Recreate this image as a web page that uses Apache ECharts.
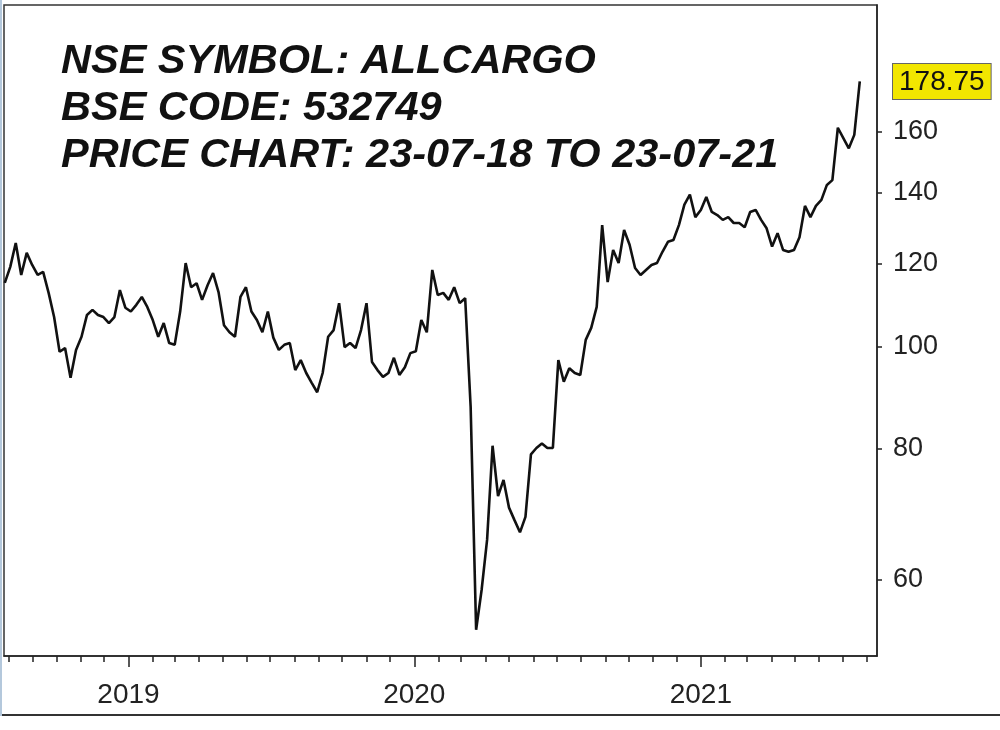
<!DOCTYPE html>
<html><head><meta charset="utf-8">
<script src="https://cdn.jsdelivr.net/npm/echarts@6/dist/echarts.min.js"></script>
<style>html,body{margin:0;padding:0;background:#fff}#c{width:1000px;height:730px}</style>
</head><body><div id="c"></div>
<script>
const titleLines = ['NSE SYMBOL: ALLCARGO', 'BSE CODE: 532749', 'PRICE CHART: 23-07-18 TO 23-07-21'];
// weekly closes, first one on the week ending 2018-07-27, one per week
const firstWeekEnd = '2018-07-27';
const weeklyClose = [
  115.0, 119.1, 125.5, 117.0, 122.8, 119.6, 117.0, 117.8, 112.5, 106.7,
  98.9, 99.7, 93.4, 99.3, 102.2, 107.2, 108.4, 107.2, 106.7, 105.3,
  106.7, 113.2, 108.9, 108.0, 109.6, 111.5, 109.1, 106.0, 102.2, 105.3,
  100.8, 100.4, 108.0, 120.1, 113.9, 114.9, 110.8, 114.4, 117.5, 112.7,
  104.8, 103.2, 102.2, 111.5, 113.9, 108.0, 106.0, 103.2, 108.0, 102.0,
  99.3, 100.4, 100.8, 95.0, 97.1, 94.4, 92.4, 90.5, 94.4, 102.2,
  103.7, 110.0, 99.9, 100.8, 99.7, 103.7, 110.0, 96.7, 95.0, 93.6,
  94.4, 97.6, 94.0, 95.6, 98.6, 99.0, 106.0, 103.2, 118.3, 112.0,
  112.5, 110.8, 113.9, 110.0, 111.2, 87.7, 53.8, 58.7, 65.5, 80.5,
  72.1, 74.7, 70.3, 68.4, 66.6, 68.9, 79.0, 80.1, 80.9, 80.1,
  80.1, 97.1, 92.6, 95.4, 94.4, 94.0, 101.5, 104.2, 109.1, 130.5,
  115.2, 123.6, 120.1, 129.1, 125.0, 118.8, 117.0, 118.3, 119.6, 120.1,
  123.1, 125.8, 126.3, 130.5, 136.5, 139.5, 132.8, 134.9, 138.8, 134.3,
  133.4, 132.0, 132.8, 131.1, 131.1, 129.9, 134.3, 134.9, 132.0, 129.6,
  124.5, 128.2, 123.6, 123.1, 123.6, 127.1, 136.1, 132.8, 136.1, 137.9,
  142.5, 144.0, 161.5, 157.9, 154.4, 159.0, 178.75
];
const lastPrice = 178.75;
const yTickValues = [60, 80, 100, 120, 140, 160];
const yearTickDates = ['2019-01-01', '2020-01-01', '2021-01-01'];
const yearLabels = ['2019', '2020', '2021'];
const axisStart = '2018-07-26';
const axisEnd = '2021-08-14';
const monthTickFirst = '2018-08-01';
const monthTickCount = 37;

const DAY = 86400000;
const toTs = s => { const p = s.split('-').map(Number); return Date.UTC(p[0], p[1] - 1, p[2]); };
const t0 = toTs(firstWeekEnd);
const seriesData = weeklyClose.map((v, i) => [t0 + i * 7 * DAY, v]);
const mt = toTs(monthTickFirst);
const monthTicks = [];
for (let k = 0; k < monthTickCount; k++) {
  const d = new Date(mt); d.setUTCMonth(d.getUTCMonth() + k); monthTicks.push(d.getTime());
}
const yearTicks = yearTickDates.map(toTs);

const chart = echarts.init(document.getElementById('c'), null, {renderer: 'canvas'});
const FONT = 'Liberation Sans, Arial, sans-serif';
chart.setOption({
  animation: false,
  backgroundColor: '#ffffff',
  title: {
    text: titleLines.join('\n'),
    left: 56, top: 33,
    textStyle: {fontFamily: FONT, fontSize: 41.5, fontWeight: 'bold', fontStyle: 'italic', color: '#111', lineHeight: 47}
  },
  grid: {left: 4, right: 123, top: 5, bottom: 74, show: true, borderColor: '#333', borderWidth: 1.5,
    backgroundColor: 'transparent', containLabel: false, outerBoundsMode: 'none'},
  xAxis: [{
    type: 'value', min: toTs(axisStart), max: toTs(axisEnd), position: 'bottom', scale: true,
    axisLine: {show: true, lineStyle: {color: '#222', width: 1.5}},
    axisTick: {show: true, customValues: monthTicks, length: 6, inside: false, lineStyle: {color: '#222', width: 1.5}},
    axisLabel: {show: false}, splitLine: {show: false}
  }, {
    type: 'value', min: toTs(axisStart), max: toTs(axisEnd), position: 'bottom', scale: true,
    axisLine: {show: false},
    axisTick: {show: true, customValues: yearTicks, length: 11, inside: false, lineStyle: {color: '#222', width: 1.5}},
    axisLabel: {show: true, customValues: yearTicks, margin: 25, fontFamily: FONT, fontSize: 28, color: '#222',
      formatter: v => { const k = yearTicks.indexOf(v); return k >= 0 ? yearLabels[k] : String(new Date(v).getUTCFullYear()); }},
    splitLine: {show: false}
  }],
  yAxis: {
    type: 'log', position: 'right', min: 50.8, max: 211.3, logBase: 10,
    axisLine: {show: true, lineStyle: {color: '#222', width: 1.5}},
    axisTick: {show: true, customValues: yTickValues, length: 5, inside: false, lineStyle: {color: '#222', width: 1.5}},
    axisLabel: {show: true, customValues: yTickValues.concat([lastPrice]), margin: 16,
      fontFamily: FONT, fontSize: 27, color: '#222',
      formatter: v => Math.abs(v - lastPrice) < 0.01 ? '{hl|' + lastPrice.toFixed(2) + '}' : String(Math.round(v)),
      rich: {hl: {fontFamily: FONT, fontSize: 28, color: '#111', backgroundColor: '#f2e600', borderColor: '#666', borderWidth: 1, padding: [4, 6, 3, 6]}}
    },
    splitLine: {show: false}
  },
  graphic: [
    {type: 'rect', shape: {x: 0, y: 714, width: 1000, height: 2}, style: {fill: '#333'}, silent: true},
    {type: 'rect', shape: {x: 0, y: 0, width: 2, height: 716}, style: {fill: '#b4c8dc'}, silent: true}
  ],
  series: [{
    type: 'line', xAxisIndex: 0, data: seriesData, showSymbol: false, symbol: 'none',
    lineStyle: {color: '#111', width: 2.6}, clip: true
  }]
});
</script></body></html>
